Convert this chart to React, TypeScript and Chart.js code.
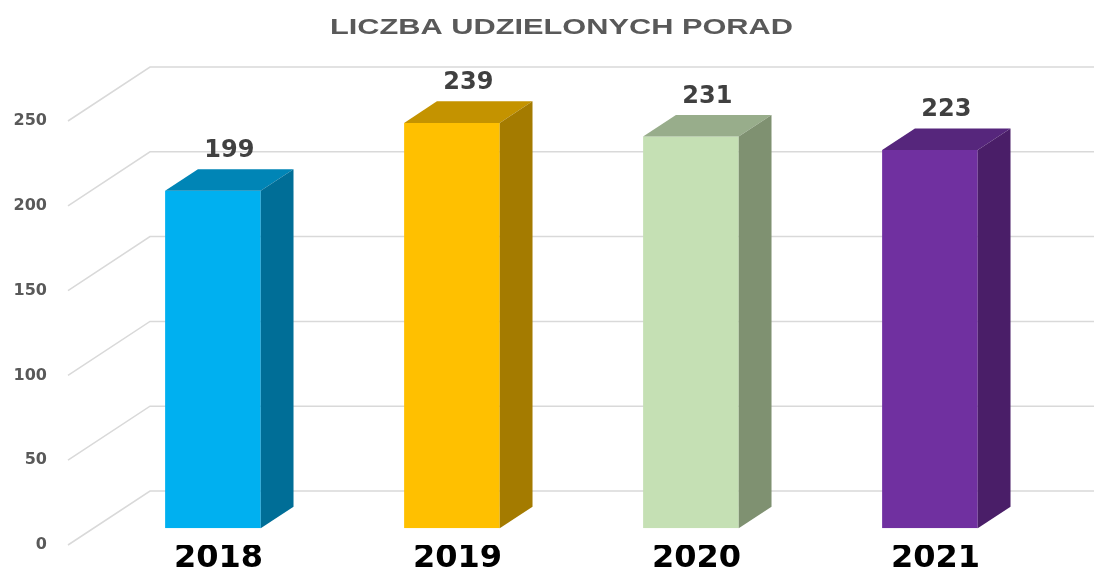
import React, { useEffect, useRef } from "react";
import { Chart, registerables } from "chart.js";

Chart.register(...registerables);

const titleText = "LICZBA UDZIELONYCH PORAD";
const categories = ["2018", "2019", "2020", "2021"];
const values = [199, 239, 231, 223];
const frontColors = ["#00B0F0", "#FFC000", "#C5E0B4", "#7030A0"];
const topColors = ["#0085B6", "#C49300", "#98AD8B", "#56267C"];
const sideColors = ["#006E97", "#A47B00", "#7F9171", "#4A1E68"];
const yMin = 0;
const yMax = 250;
const yStep = 50;

// oblique 3D geometry (floor depth vector, bar placement in depth)
const FLOOR_DX = 82;
const FLOOR_DY = -54;
const BAR_FRONT = 0.31;
const BAR_DEPTH = 0.4;

const W = 1094;
const H = 569;

const threeD = {
  id: "threeD",
  beforeDatasetsDraw(chart: any) {
    const { ctx, chartArea, scales } = chart;
    const y = scales.y;
    ctx.save();
    ctx.strokeStyle = "#D9D9D9";
    ctx.lineWidth = 1.5;
    for (const t of y.ticks) {
      const py = y.getPixelForValue(t.value);
      ctx.beginPath();
      ctx.moveTo(chartArea.left, py);
      ctx.lineTo(chartArea.left + FLOOR_DX, py + FLOOR_DY);
      ctx.lineTo(chart.width, py + FLOOR_DY);
      ctx.stroke();
    }
    ctx.restore();
    ctx.save();
    ctx.translate(FLOOR_DX * BAR_FRONT, FLOOR_DY * BAR_FRONT);
  },
  afterDatasetsDraw(chart: any) {
    const ctx = chart.ctx;
    ctx.restore();
    const tx = FLOOR_DX * BAR_FRONT;
    const ty = FLOOR_DY * BAR_FRONT;
    const dx = FLOOR_DX * BAR_DEPTH;
    const dy = FLOOR_DY * BAR_DEPTH;
    const meta = chart.getDatasetMeta(0);
    ctx.save();
    meta.data.forEach((bar: any, i: number) => {
      const { x, y, base, width } = bar.getProps(["x", "y", "base", "width"], true);
      const l = x - width / 2 + tx;
      const r = x + width / 2 + tx;
      const top = y + ty;
      const bot = base + ty;
      ctx.fillStyle = topColors[i];
      ctx.beginPath();
      ctx.moveTo(l, top);
      ctx.lineTo(l + dx, top + dy);
      ctx.lineTo(r + dx, top + dy);
      ctx.lineTo(r, top);
      ctx.closePath();
      ctx.fill();
      ctx.fillStyle = sideColors[i];
      ctx.beginPath();
      ctx.moveTo(r, top);
      ctx.lineTo(r + dx, top + dy);
      ctx.lineTo(r + dx, bot + dy);
      ctx.lineTo(r, bot);
      ctx.closePath();
      ctx.fill();
      ctx.fillStyle = "#404040";
      ctx.font = 'bold 24px "DejaVu Sans"';
      ctx.textAlign = "center";
      ctx.textBaseline = "alphabetic";
      ctx.fillText(String(values[i]), (l + r) / 2 + dx / 2, top + dy - 12);
    });
    ctx.restore();
  },
  afterDraw(chart: any) {
    const ctx = chart.ctx;
    ctx.save();
    ctx.font = 'bold 22px "Liberation Sans", Arial';
    const w = ctx.measureText(titleText).width;
    ctx.translate(561.5, 33.5);
    ctx.scale(463 / w, 1);
    ctx.textAlign = "center";
    ctx.textBaseline = "alphabetic";
    ctx.fillStyle = "#595959";
    ctx.fillText(titleText, 0, 0);
    ctx.restore();
  },
};

export default function App() {
  const ref = useRef<HTMLCanvasElement>(null);
  useEffect(() => {
    if (!ref.current) return;
    const chart = new Chart(ref.current, {
      type: "bar",
      data: {
        labels: categories,
        datasets: [
          {
            data: values,
            backgroundColor: frontColors,
            borderWidth: 0,
            categoryPercentage: 1,
            barPercentage: 0.4,
          },
        ],
      },
      options: {
        responsive: false,
        animation: false,
        layout: { padding: { top: 121, right: 70, left: 0, bottom: 0 } },
        plugins: {
          legend: { display: false },
          title: { display: false },
          tooltip: { enabled: false },
        },
        scales: {
          x: {
            grid: { display: false, drawTicks: false },
            border: { display: false },
            ticks: {
              color: "#000000",
              font: { family: '"DejaVu Sans"', size: 32, weight: "bold" },
              labelOffset: 31,
              padding: -6,
              maxRotation: 0,
              autoSkip: false,
            },
            afterFit(s: any) {
              s.height = 24;
            },
          },
          y: {
            min: yMin,
            max: yMax,
            grid: { display: false, drawTicks: false },
            border: { display: false },
            ticks: {
              stepSize: yStep,
              color: "#595959",
              font: { family: '"DejaVu Sans"', size: 16, weight: "bold" },
              padding: 21,
            },
            afterFit(s: any) {
              s.width = 68;
              s.paddingTop = 0;
              s.paddingBottom = 0;
            },
          },
        },
      },
      plugins: [threeD],
    });
    return () => chart.destroy();
  }, []);
  return (
    <div style={{ position: "absolute", left: 0, top: 0, width: W, height: H, background: "#fff" }}>
      <canvas ref={ref} width={W} height={H} style={{ display: "block" }} />
    </div>
  );
}
